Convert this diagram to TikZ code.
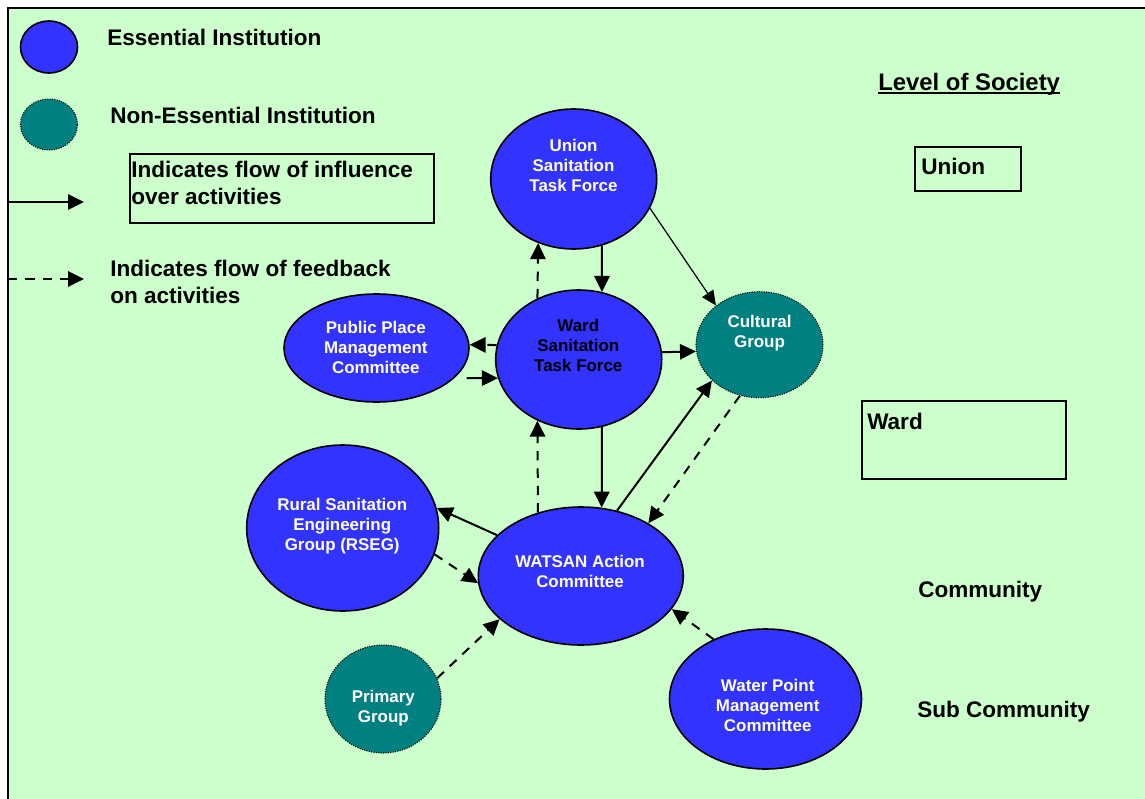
\documentclass[tikz,border=0pt]{standalone}
\usepackage{fontspec}
\setmainfont{Liberation Sans}
\usetikzlibrary{shapes.geometric,arrows.meta}
\definecolor{bgg}{HTML}{CCFFCC}
\definecolor{essblue}{HTML}{3333FF}
\definecolor{nonteal}{HTML}{008080}
\begin{document}
\begin{tikzpicture}[x=0.75pt,y=-0.75pt,
  esize/.style 2 args={minimum width=#1*0.75pt, minimum height=#2*0.75pt},
  ess/.style={ellipse, draw=black, line width=1.2pt, fill=essblue, inner sep=0pt},
  noness/.style={ellipse, draw=black, densely dotted, line width=0.8pt, fill=nonteal, inner sep=0pt},
  etxt/.style={font=\bfseries\fontsize{12.7}{15}\selectfont, text=white, align=center, anchor=base, inner sep=0pt},
  big/.style={font=\bfseries\fontsize{16.9}{20.2}\selectfont, anchor=base west, inner sep=0pt},
  lvlbox/.style={draw=black, line width=1.2pt, anchor=north west, inner sep=0pt},
  infl/.style={line width=1.5pt, -{Triangle[length=12pt,width=11.5pt]}},
  thininfl/.style={line width=0.9pt, -{Triangle[length=11pt,width=10pt]}},
  feed/.style={infl, dash pattern=on 7pt off 6pt}
]
\useasboundingbox (0,0) rectangle (1145,799);
\fill[white] (0,0) rectangle (1145,799);
\fill[bgg] (8,8) rectangle (1145,799);
\draw[line width=1.5pt] (8,820) -- (8,8) -- (1160,8);

% legend
\node[ess, esize={57}{52}] (legess) at (49,47) {};
\node[noness, esize={57}{51}] (legnon) at (49,124.5) {};
\node[big] (tess) at (107,46) {Essential Institution};
\node[big] (tnon) at (110,123) {Non-Essential Institution};
\node[lvlbox, minimum width=304*0.75pt, minimum height=69*0.75pt] (infbox) at (129,153) {};
\node[big, align=left] (tinf) at (131,204) {Indicates flow of influence\\over activities};
\node[big, align=left] (tfeed) at (110,303) {Indicates flow of feedback\\on activities};
\coordinate (l1s) at (8,202);
\coordinate (l1e) at (84,202);
\coordinate (l2s) at (8,279);
\coordinate (l2e) at (84,279);
\draw[infl] (l1s) -- (l1e);
\draw[feed] (l2s) -- (l2e);

% levels
\node[big, font=\bfseries\fontsize{17.9}{21}\selectfont] (los) at (878,90) {Level of Society};
\draw[line width=1.5pt] ([yshift=-2.3pt]los.base west) -- ([yshift=-2.3pt]los.base east);
\node[lvlbox, minimum width=106*0.75pt, minimum height=44*0.75pt] (unionbox) at (914,146) {};
\node[big] (tunion) at (921,174) {Union};
\node[lvlbox, minimum width=204*0.75pt, minimum height=78*0.75pt] (wardbox) at (861,400) {};
\node[big] (tward) at (867,429) {Ward};
\node[big] (tcomm) at (918,597) {Community};
\node[big] (tsub) at (917,717) {Sub Community};

% institutions
\node[ess, esize={166}{140}] (union) at (573.7,179) {};
\node[ess, esize={166}{139}] (ward) at (578.7,359.5) {};
\node[noness, esize={127}{106}] (cult) at (759.5,344.7) {};
\node[ess, esize={185}{108}] (ppmc) at (376.5,348) {};
\node[ess, esize={192}{166}] (rseg) at (342.7,528) {};
\node[noness, esize={116}{108}] (prim) at (383,699) {};
\node[ess, esize={205}{138}] (watsan) at (580.8,576) {};
\node[ess, esize={192}{140}] (wpmc) at (765.5,699) {};

\node[etxt] (tunionst) at (573.5,191) {Union\\Sanitation\\Task Force};
\node[etxt, text=black] (twardst) at (578.3,371) {Ward\\Sanitation\\Task Force};
\node[etxt] (tcult) at (759.5,347) {Cultural\\Group};
\node[etxt] (tppmc) at (375.8,373) {Public Place\\Management\\Committee};
\node[etxt] (trseg) at (342.2,550) {Rural Sanitation\\Engineering\\Group (RSEG)};
\node[etxt] (tprim) at (383.3,722) {Primary\\Group};
\node[etxt] (twatsan) at (580,587) {WATSAN Action\\Committee};
\node[etxt] (twpmc) at (767.7,731) {Water Point\\Management\\Committee};

% connectors
\draw[infl] (union.-67.8) -- (ward.71.8);
\draw[feed] (ward.124.2) -- (union.-119.7);
\draw[thininfl] (union.-21.1) -- (cult.138);
\draw[infl] (ward.5.9) -- (cult.-174.3);
\draw[feed] (ward.170.6) -- (ppmc.2.1);
\draw[infl, shorten <=9pt] (ppmc.-21.3) -- (ward.-167);
\draw[infl] (ward.-71.6) -- (watsan.73.4);
\draw[feed] (watsan.124.5) -- (ward.-124.2);
\draw[infl] (watsan.61.8) -- (cult.-143.3);
\draw[feed] (cult.-111.8) -- (watsan.38);
\draw[infl] (watsan.154.6) -- (rseg.12.6);
\draw[feed] (rseg.-16.9) -- (watsan.-176.6);
\draw[feed] (prim.21.4) -- (watsan.-152.3);
\draw[feed] (wpmc.131.2) -- (watsan.-20.3);
\end{tikzpicture}
\end{document}
